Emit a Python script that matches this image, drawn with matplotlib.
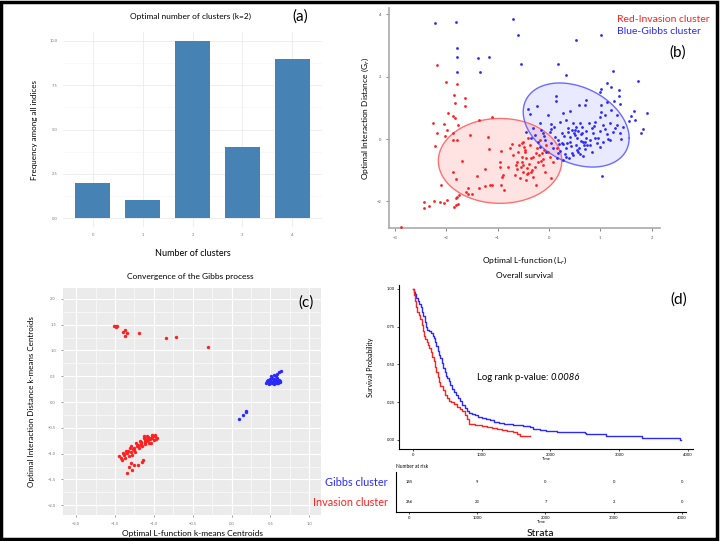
import matplotlib
matplotlib.use('Agg')
import matplotlib.pyplot as plt
import numpy as np

plt.rcParams['font.family'] = ['Lato', 'DejaVu Sans']

# ---- panel (a): number of clusters votes
k_labels = ['0', '1', '2', '3', '4']
k_freq = [2, 1, 10, 4, 9]

# ---- panel (b): patients, L-function vs interaction distance
red_b_x = [-2.17, -2.00, -1.79, -1.84, -1.64, -1.82, -1.63, -1.96, -1.87, -1.82, -1.10, -1.36,
           -2.25, -2.04, -1.77, -1.98, -2.18, -1.87, -2.02, -1.86, -1.79, -1.53, -2.21, -1.19,
           -1.17, -0.93, -0.75, -0.71, -0.95, -1.70, -1.25, -0.95, -0.79, -0.65, -1.86, -1.81,
           -1.39, -0.90, -0.91, -2.09, -1.58, -1.36, -1.25, -1.15, -1.10, -0.93, -0.88, -1.62,
           -1.57, -1.50, -1.75, -1.79, -1.81, -1.99, -2.04, -2.12, -2.23, -2.43, -2.43, -2.34,
           -1.84, -1.80, -1.76, -2.88,
           -0.50, -0.47, -0.53, -0.43, -0.37, -0.30, -0.34, -0.24, -0.21, -0.25, -0.14, -0.11,
           -0.08, -0.05, 0.02, 0.08, 0.15, 0.05, -0.45, -0.18, -0.40,
           -0.60, -0.53, -0.63, -0.50, -0.56, -0.66, -0.52, -0.50, -0.69, -0.47,
           -0.35, -0.28, -0.20, -0.40, -0.58, -0.15, -0.02, -0.32, -0.62, -0.44,
           -0.38, -0.26, -0.12, -0.48, -0.55, -0.31, -0.09, -0.42]
red_b_y = [2.36, 1.83, 1.75, 1.40, 1.32, 1.14, 1.05, 0.85, 0.75, 0.66, 0.71, 0.60,
           0.51, 0.47, 0.45, 0.28, 0.21, 0.18, 0.11, -0.03, -0.03, 0.12, -0.21, 0.06,
           -0.33, -0.38, -0.28, -0.17, -0.72, -0.71, -0.96, -0.91, -0.90, -0.83, -1.07, -1.28,
           -1.18, -1.15, -1.23, -1.47, -1.57, -1.56, -1.51, -1.47, -1.47, -1.47, -1.62, -1.71,
           -1.76, -1.75, -1.79, -1.86, -1.90, -1.96, -2.06, -2.03, -2.00, -2.03, -2.20, -2.14,
           -2.18, -2.10, -2.07, -2.82,
           -0.09, -0.41, -0.73, -0.94, -0.19, -0.57, -1.05, -0.30, -0.73, -1.47, -0.46, -0.83,
           -1.05, -0.19, -0.57, -0.73, -0.30, -1.26, -1.31, -0.03, 0.02,
           -0.41, -0.57, -0.73, -1.05, -1.26, -1.15, -0.14, -0.83, -0.51, -0.35,
           -0.62, -0.88, -0.50, -1.10, -0.20, -0.70, -0.40, -1.00, -0.95, -0.60,
           -0.80, -0.45, -0.65, -0.25, -0.88, -1.20, -0.35, -1.12]
blue_b_x = [-2.22, -1.80, -0.70, -0.60, -1.79, -1.79, -1.37, -1.16, -0.54, -1.79, -1.34,
            0.53, 1.01, 0.17, 0.34, 1.25, 1.74, 1.20, 1.12, 1.02, 0.99, 1.37, 1.37, 1.13, 1.26,
            1.38, 1.90, 1.66, 1.59, 1.68, 1.82, 1.80, 1.55, 1.04, 0.13, 0.13, 0.59, 0.73, 0.71,
            0.28, 0.41, -0.02, -0.24, -0.40, -0.37, 1.02, 1.02, 0.99, 1.32, 1.20, 1.09,
            -0.30, -0.18, 0.05, 0.21, 0.34, 0.47, 0.60, 0.77, 0.89, 1.06, 1.19, 1.32, 1.45,
            -0.27, -0.11, 0.02, 0.12, 0.25, 0.38, 0.51, 0.64, 0.73, 0.86, 0.99, 1.12, 1.25, 1.38,
            -0.21, -0.07, 0.05, 0.18, 0.28, 0.41, 0.54, 0.67, 0.80, 0.93, 1.06, 1.19,
            0.08, 0.21, 0.34, 0.44, 0.57, 0.70, 0.83, 0.99, 0.34, 0.47, 0.60, 0.15, 0.28,
            -0.05, -0.18, -0.34, -0.44, 0.41, 0.64, 0.83, 1.09,
            0.30, 0.52, 0.62, 0.90, 1.15, 0.10, 0.45, 0.75, -0.10, 0.20,
            0.36, 0.43, 0.55, 0.68, 0.50, 0.62, 0.38, 0.25, 0.72, 0.58, 0.48, 0.80, 0.95, 0.32,
            0.66, 0.40, 0.52, 0.88, 0.18, 0.05, -0.15, 1.28, 1.40, 0.70, 0.56]
blue_b_y = [3.73, 3.76, 3.86, 3.33, 2.93, 2.64, 2.61, 2.64, 2.39, 2.15, 2.15,
            3.18, 3.32, 2.39, 2.04, 2.19, 1.86, 1.68, 1.81, 1.60, 1.50, 1.58, 1.39, 1.20, 1.23,
            1.13, 0.82, 0.90, 0.75, 0.60, 0.32, 0.20, 0.59, -1.18, 1.39, 1.22, 1.09, 1.25, 1.09,
            0.82, 0.90, 0.77, 1.06, 0.95, 0.79, 1.09, 0.88, 0.72, 0.77, 0.92, 0.77,
            0.34, 0.50, 0.47, 0.56, 0.61, 0.50, 0.53, 0.50, 0.56, 0.45, 0.50, 0.45, 0.40,
            0.13, 0.18, 0.24, 0.07, 0.18, 0.24, 0.29, 0.18, 0.26, 0.18, 0.26, 0.15, 0.24, 0.18,
            -0.09, -0.03, -0.14, -0.03, -0.17, -0.09, 0.02, -0.09, -0.03, -0.14, -0.09, -0.03,
            -0.30, -0.38, -0.30, -0.46, -0.41, -0.32, -0.41, -0.25, -0.57, -0.51, -0.49, -0.62, -0.67,
            -0.41, -0.25, 0.02, 0.24, 0.07, 0.40, 0.36, 0.32,
            0.10, -0.20, 0.15, 0.05, 0.00, 0.40, 0.30, -0.20, 0.10, -0.15,
            -0.12, -0.22, -0.35, -0.18, 0.12, -0.05, 0.35, -0.12, 0.05, -0.28, 0.20, -0.20, 0.05, -0.48,
            -0.55, -0.60, 0.38, 0.42, -0.45, 0.33, 0.28, 0.35, 0.00, -0.08, 0.25]

# ---- panel (c): k-means centroids of the Gibbs process
red_c_x = [-1.50, -1.51, -1.49, -1.48, -1.37, -1.40, -1.35, -1.37, -1.19, -0.84, -0.72, -0.30,
           -0.96, -1.02, -1.09, -1.13, -1.07, -1.00, -1.17, -1.11, -1.04, -1.22, -1.15, -1.26,
           -1.19, -1.30, -1.34, -1.39, -1.43, -1.37, -1.32, -1.41, -1.28, -1.24, -1.29, -1.32,
           -1.26, -1.34, -1.21, -1.15, -1.14, -1.28, -0.99, -1.05, -1.10, -1.16, -1.20, -1.25,
           -1.45, -1.38, -1.33, -1.27, -1.12, -1.06,
           -0.98, -1.03, -1.08, -1.12, -1.18, -1.23, -1.13, -1.09, -1.02, -0.97, -1.36, -1.31,
           -1.40, -1.30, -1.21, -1.17, -1.06, -1.01]
red_c_y = [1.48, 1.47, 1.46, 1.48, 1.40, 1.35, 1.33, 1.28, 1.33, 1.24, 1.26, 1.07,
           -0.70, -0.67, -0.65, -0.70, -0.73, -0.74, -0.80, -0.81, -0.80, -0.86, -0.86, -0.93,
           -0.89, -0.96, -0.99, -1.02, -1.09, -1.09, -1.05, -1.13, -1.02, -0.96, -1.18, -1.25,
           -1.22, -1.37, -1.22, -1.17, -1.12, -1.31, -0.66, -0.72, -0.76, -0.83, -0.85, -0.90,
           -1.05, -1.00, -0.95, -0.91, -0.78, -0.69,
           -0.63, -0.64, -0.68, -0.74, -0.76, -0.80, -0.66, -0.71, -0.70, -0.72, -0.94, -0.90,
           -0.98, -0.86, -0.83, -0.78, -0.79, -0.66]
blue_c_x = [0.44, 0.46, 0.48, 0.50, 0.52, 0.54, 0.56, 0.58, 0.60, 0.62, 0.47, 0.50, 0.53, 0.56,
            0.59, 0.61, 0.49, 0.52, 0.55, 0.58, 0.51, 0.54, 0.57, 0.59, 0.61, 0.63, 0.45, 0.62,
            0.57, 0.53, 0.09, 0.15, 0.19, 0.18]
blue_c_y = [0.36, 0.38, 0.35, 0.37, 0.36, 0.35, 0.37, 0.36, 0.37, 0.38, 0.42, 0.41, 0.40, 0.42,
            0.41, 0.43, 0.45, 0.47, 0.45, 0.46, 0.50, 0.52, 0.51, 0.55, 0.58, 0.60, 0.40, 0.40,
            0.39, 0.38, -0.33, -0.25, -0.18, -0.20]

# ---- panel (d): Kaplan-Meier curves
gibbs_t = [0, 15, 30, 50, 70, 90, 110, 130, 150, 170, 190, 210, 235, 260, 285, 305, 320, 340,
           360, 380, 400, 420, 440, 460, 480, 500, 520, 545, 570, 600, 630, 660, 690, 720, 750,
           780, 820, 860, 900, 950, 1000, 1060, 1120, 1180, 1250, 1330, 1450, 1600, 1700, 1750,
           1850, 1940, 2100, 2230, 2500, 2520, 2810, 3330, 3880, 3900]
gibbs_s = [1.0, 0.98, 0.965, 0.94, 0.92, 0.90, 0.88, 0.85, 0.82, 0.78, 0.745, 0.73, 0.72, 0.71,
           0.69, 0.675, 0.65, 0.62, 0.59, 0.565, 0.54, 0.51, 0.475, 0.45, 0.425, 0.41, 0.39,
           0.365, 0.34, 0.32, 0.30, 0.28, 0.255, 0.23, 0.21, 0.19, 0.18, 0.172, 0.165, 0.155,
           0.148, 0.14, 0.13, 0.122, 0.115, 0.108, 0.102, 0.095, 0.085, 0.073, 0.065, 0.057,
           0.053, 0.051, 0.045, 0.042, 0.029, 0.013, 0.002, 0.002]
inv_t = [0, 10, 25, 45, 65, 85, 105, 125, 145, 160, 180, 200, 220, 240, 260, 280, 300, 320,
         340, 360, 380, 400, 430, 460, 490, 520, 560, 600, 640, 680, 720, 760, 790, 810, 900,
         1000, 1072, 1150, 1217, 1300, 1362, 1450, 1507, 1555, 1700]
inv_s = [1.0, 0.96, 0.92, 0.88, 0.85, 0.83, 0.80, 0.76, 0.72, 0.69, 0.67, 0.65, 0.63, 0.61,
         0.58, 0.55, 0.52, 0.48, 0.45, 0.42, 0.385, 0.36, 0.33, 0.30, 0.28, 0.26, 0.25, 0.235,
         0.22, 0.205, 0.19, 0.165, 0.14, 0.108, 0.102, 0.095, 0.086, 0.08, 0.073, 0.066, 0.057,
         0.05, 0.042, 0.024, 0.024]
risk_times = [0, 1000, 2000, 3000, 4000]
risk_gibbs = [145, 9, 0, 0, 0]
risk_inv = [266, 23, 7, 2, 0]

RED = '#ff2020'
BLUE = '#2a2aff'
W, H = 720, 541


def px_axes(fig, x0, y0, x1, y1):
    return fig.add_axes([x0 / W, 1 - y1 / H, (x1 - x0) / W, (y1 - y0) / H])


def ftext(fig, x, y, s, **kw):
    fig.text(x / W, 1 - y / H, s, **kw)


fig = plt.figure(figsize=(7.2, 5.41), dpi=100)

# ================= (a)
ax = px_axes(fig, 63, 32, 322, 227)
xs = np.arange(len(k_labels))
ax.bar(xs, k_freq, width=0.7, color='#4682b4', zorder=2)
ax.set_xlim(-0.6, 4.6)
ax.set_ylim(-0.5, 10.5)
ax.set_yticks([0, 2.5, 5.0, 7.5, 10.0])
ax.set_yticklabels(['0.0', '2.5', '5.0', '7.5', '10.0'])
ax.set_xticks(xs)
ax.set_xticklabels(k_labels)
ax.set_yticks([1.25, 3.75, 6.25, 8.75], minor=True)
ax.grid(True, which='major', color='#ebebeb', lw=0.6, zorder=0)
ax.grid(True, which='minor', axis='y', color='#f4f4f4', lw=0.4, zorder=0)
ax.tick_params(length=0, labelsize=3, colors='#777777', pad=4)
ax.tick_params(which='minor', length=0)
for s in ax.spines.values():
    s.set_visible(False)
ax.set_xlabel('Number of clusters', fontsize=6.5, labelpad=9)
ax.set_ylabel('Frequency among all indices', fontsize=5.8, labelpad=8)
ftext(fig, 190, 16, 'Optimal number of clusters (k=2)', fontsize=6, ha='center', va='center')
ftext(fig, 300, 17, '(a)', fontsize=11, ha='center', va='center')

# ================= (b)
ax = px_axes(fig, 389, 8, 660, 228)
ax.set_xlim(-3.11, 2.16)
ax.set_ylim(-2.85, 4.2)
t = np.linspace(0, 2 * np.pi, 200)
# cluster ellipses (centre, axis vectors in data units)
ax.fill(-0.95 + 1.2 * np.cos(t), -0.7 + 1.36 * np.sin(t), color=RED, alpha=0.12, lw=0)
ax.plot(-0.95 + 1.2 * np.cos(t), -0.7 + 1.36 * np.sin(t), color='#ff7070', lw=1)
ex = 0.53 + 1.03 * np.cos(t)
ey = 0.45 - 0.42 * np.cos(t) + 1.28 * np.sin(t)
ax.fill(ex, ey, color=BLUE, alpha=0.10, lw=0)
ax.plot(ex, ey, color='#6b6bff', lw=1)
ax.scatter(red_b_x, red_b_y, s=4, color=RED, lw=0, zorder=3)
ax.scatter(blue_b_x, blue_b_y, s=4, color=BLUE, lw=0, zorder=3)
ax.set_xticks([-3, -2, -1, 0, 1, 2])
ax.set_yticks([-2, 0, 2, 4])
ax.tick_params(length=2, labelsize=3, colors='#555555', width=0.5)
for k in ['top', 'right']:
    ax.spines[k].set_visible(False)
for k in ['left', 'bottom']:
    ax.spines[k].set_color('#aaaaaa')
    ax.spines[k].set_linewidth(1.2)
ax.set_xlabel('Optimal L-function (L$_r$)', fontsize=6, labelpad=10)
ax.set_ylabel('Optimal Interaction Distance (G$_r$)', fontsize=6, labelpad=4)
ftext(fig, 617, 19, 'Red-Invasion cluster', fontsize=7.5, color=RED, ha='left', va='center')
ftext(fig, 617, 32, 'Blue-Gibbs cluster', fontsize=7.5, color=BLUE, ha='left', va='center')
ftext(fig, 678, 53, '(b)', fontsize=11, ha='center', va='center')

# ================= (c)
ax = px_axes(fig, 63, 288, 321, 515)
ax.set_facecolor('#ebebeb')
ax.set_xlim(-2.17, 1.15)
ax.set_ylim(-2.19, 2.21)
ax.set_xticks(np.arange(-2.0, 1.01, 0.5))
ax.set_yticks(np.arange(-2.0, 2.01, 0.5))
ax.set_xticks(np.arange(-1.75, 1.01, 0.5), minor=True)
ax.set_yticks(np.arange(-1.75, 2.01, 0.5), minor=True)
ax.grid(True, which='major', color='white', lw=0.8)
ax.grid(True, which='minor', color='white', lw=0.4)
ax.set_axisbelow(True)
ax.scatter(red_c_x, red_c_y, s=6, color=RED, lw=0)
ax.scatter(blue_c_x, blue_c_y, s=6, color=BLUE, lw=0)
ax.tick_params(length=1.5, labelsize=3, colors='#777777', width=0.5)
ax.tick_params(which='minor', length=0)
for s in ax.spines.values():
    s.set_visible(False)
ax.set_xlabel('Optimal L-function k-means Centroids', fontsize=6, labelpad=3)
ax.set_ylabel('Optimal Interaction Distance k-means Centroids', fontsize=5.8, labelpad=9)
ftext(fig, 190, 276, 'Convergence of the Gibbs process', fontsize=6, ha='center', va='center')
ftext(fig, 306, 303, '(c)', fontsize=11, ha='center', va='center')

# ================= (d) survival
ax = px_axes(fig, 399, 285, 693, 449)
ax.step(gibbs_t, gibbs_s, where='post', color=BLUE, lw=1)
ax.step(inv_t, inv_s, where='post', color=RED, lw=1)
ax.set_xlim(-204, 4076)
ax.set_ylim(-0.06, 1.026)
ax.set_xticks(risk_times)
ax.set_yticks([0, 0.25, 0.5, 0.75, 1.0])
ax.set_yticklabels(['0.00', '0.25', '0.50', '0.75', '1.00'])
ax.tick_params(length=1.5, labelsize=3, width=0.5, pad=1.5)
for k in ['top', 'right']:
    ax.spines[k].set_visible(False)
for k in ['left', 'bottom']:
    ax.spines[k].set_linewidth(0.8)
ax.set_xlabel('Time', fontsize=3, labelpad=0)
ax.set_ylabel('Survival Probability', fontsize=5, labelpad=9)
ftext(fig, 477, 377, 'Log rank p-value:', fontsize=6.8, ha='left', va='center')
ftext(fig, 551, 377, '0.0086', fontsize=6.8, style='italic', ha='left', va='center')
ftext(fig, 525, 276, 'Overall survival', fontsize=6, ha='center', va='center')
ftext(fig, 679, 300, '(d)', fontsize=11, ha='center', va='center')

# risk table
ax = px_axes(fig, 396, 472, 686, 512)
ax.set_xlim(-190, 4059)
ax.set_ylim(0, 1)
for tt, g, r in zip(risk_times, risk_gibbs, risk_inv):
    ax.text(tt, 0.75, str(g), fontsize=3, ha='center', va='center')
    ax.text(tt, 0.25, str(r), fontsize=3, ha='center', va='center')
ax.set_xticks(risk_times)
ax.set_yticks([])
ax.tick_params(length=1.5, labelsize=3, width=0.5, pad=1.5)
for k in ['top', 'right']:
    ax.spines[k].set_visible(False)
for k in ['left', 'bottom']:
    ax.spines[k].set_linewidth(0.8)
ax.set_xlabel('Time', fontsize=3, labelpad=0)
ftext(fig, 396, 466, 'Number at risk', fontsize=3.5, ha='left', va='center')
ftext(fig, 388, 482, 'Gibbs cluster', fontsize=7.8, color=BLUE, ha='right', va='center')
ftext(fig, 388, 502, 'Invasion cluster', fontsize=7.8, color=RED, ha='right', va='center')
ftext(fig, 540, 533, 'Strata', fontsize=7.5, ha='center', va='center')

# outer frame
fig.patches.append(plt.Rectangle((0.002, 0.004), 0.994, 0.993, transform=fig.transFigure,
                                 fill=False, edgecolor='black', lw=2.5))

fig.savefig('out.png', dpi=100)
